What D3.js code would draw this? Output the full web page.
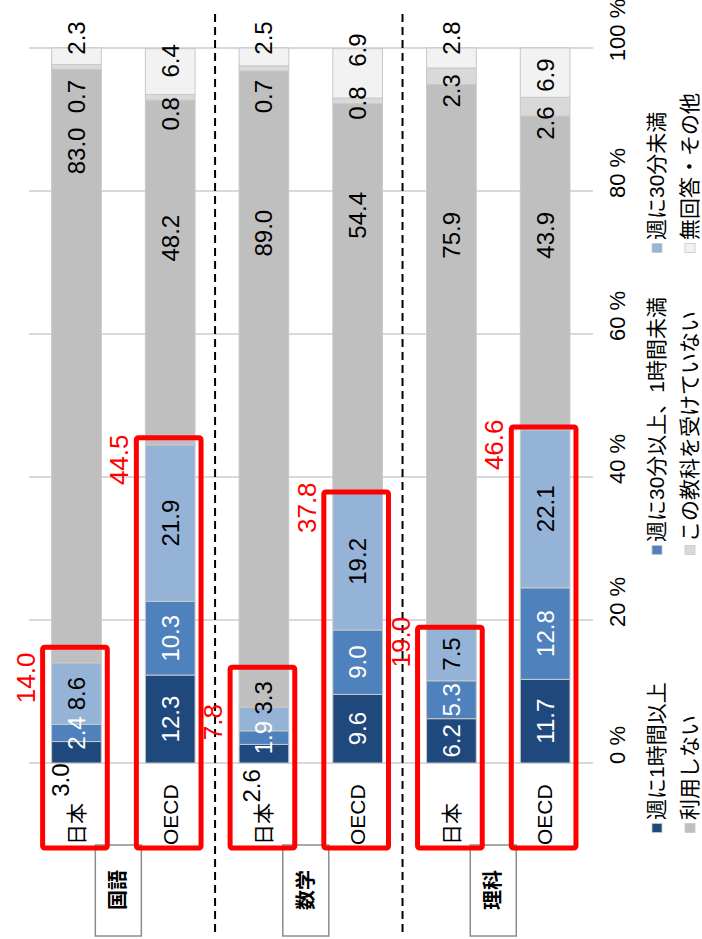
<!DOCTYPE html>
<html>
<head>
<meta charset="utf-8">
<script src="https://cdn.jsdelivr.net/npm/d3@7/dist/d3.min.js"></script>
<style>
  body { margin: 0; background: #fff; }
  svg { display: block; font-family: "Liberation Sans", Arial, "Noto Sans CJK JP", sans-serif; }
</style>
</head>
<body>
<script>
// categories
const subjects = ["国語", "数学", "理科"];
const groups = ["日本", "OECD", "日本", "OECD", "日本", "OECD"];
const seriesNames = ["週に1時間以上", "週に30分以上、1時間未満", "週に30分未満",
                     "利用しない", "この教科を受けていない", "無回答・その他"];

// series values (%), one entry per bar: 国語 日本, 国語 OECD, 数学 日本, 数学 OECD, 理科 日本, 理科 OECD
const over1h     = [3.0, 12.3, 2.6, 9.6, 6.2, 11.7];
const from30to1h = [2.4, 10.3, 1.9, 9.0, 5.3, 12.8];
const under30    = [8.6, 21.9, 3.3, 19.2, 7.5, 22.1];
const noUse      = [83.0, 48.2, 89.0, 54.4, 75.9, 43.9];
const notTaking  = [0.7, 0.8, 0.7, 0.8, 2.3, 2.6];
const noAnswer   = [2.3, 6.4, 2.5, 6.9, 2.8, 6.9];
const usersTotal = [14.0, 44.5, 7.8, 37.8, 19.0, 46.6];

// tick labels
const tickValues = [0, 20, 40, 60, 80, 100];

const series = [over1h, from30to1h, under30, noUse, notTaking, noAnswer];
const colors = ["#1f497d", "#4f81bd", "#95b3d7", "#bfbfbf", "#d9d9d9", "#f2f2f2"];

const W = 702, H = 939;
const svg = d3.select("body").append("svg").attr("width", W).attr("height", H);

const x = d3.scaleBand().domain(d3.range(groups.length))
    .range([29.6, 592]).paddingInner(0.47).paddingOuter(0.235);
const y = d3.scaleLinear().domain([0, 100]).range([763, 48]);
const bw = x.bandwidth();

// rotated text helper (reads bottom to top)
function vtext(g, px, py, str, opt) {
  opt = opt || {};
  return g.append("text")
      .attr("transform", "translate(" + px + "," + py + ") rotate(-90)")
      .attr("text-anchor", opt.anchor || "middle")
      .attr("dy", opt.dy || "0.35em")
      .style("font-size", (opt.size || 22) + "px")
      .style("font-weight", opt.weight || "normal")
      .attr("fill", opt.fill || "#000")
      .text(str);
}

// gridlines
svg.append("g").selectAll("line")
    .data(tickValues)
    .enter().append("line")
    .attr("x1", 29).attr("x2", 593)
    .attr("y1", d => y(d)).attr("y2", d => y(d))
    .attr("stroke", "#d9d9d9").attr("stroke-width", 2);

// stacked bars
const rows = d3.range(groups.length).map(i => ({ i: i, vals: series.map(s => s[i]) }));
const stacked = d3.stack().keys(d3.range(series.length)).value((d, k) => d.vals[k])(rows);

const layers = svg.append("g").selectAll("g")
    .data(stacked)
    .enter().append("g")
    .attr("fill", (d, k) => colors[k]);

layers.selectAll("rect")
    .data(d => d)
    .enter().append("rect")
    .attr("x", d => x(d.data.i))
    .attr("width", bw)
    .attr("y", d => y(d[1]))
    .attr("height", d => y(d[0]) - y(d[1]))
    .attr("stroke", "#c8c8c8")
    .attr("stroke-width", 1);

// where labels were moved off the segment centre (value-axis %), [series][bar]
const labelAt = [
  [-2.4, null, -3.2, null, null, null],
  [null, null, null, null, null, null],
  [null, null, 9.1, null, null, null],
  [85.6, 73.4, 74.1, 76.6, 73.8, 73.8],
  [93.2, 90.8, 93.2, 92.3, 94.0, 89.5],
  [101.4, 98.2, 101.4, 99.7, 101.4, 96.2]
];
const labelDx = [[-16, 0, -12, 0, 0, 0]];

const lbl = svg.append("g");
stacked.forEach((layer, k) => {
  layer.forEach(d => {
    const i = d.data.i;
    const at = labelAt[k][i] != null ? labelAt[k][i] : (d[0] + d[1]) / 2;
    const dx = (labelDx[k] && labelDx[k][i]) || 0;
    const outside = at < 0;
    const fill = (k < 2 && !outside) ? "#fff" : "#000";
    vtext(lbl, x(i) + bw / 2 + dx, y(at), d3.format(".1f")(series[k][i]), { size: 24, fill: fill });
  });
});

// group labels under bars
const cat = svg.append("g");
groups.forEach((gname, i) => {
  vtext(cat, x(i) + bw / 2, 845, gname, { anchor: "start", size: 21 });
});

// subject boxes
const boxes = svg.append("g");
subjects.forEach((s, j) => {
  const cx = (x(2 * j) + x(2 * j + 1) + bw) / 2 - 5;
  boxes.append("rect")
      .attr("x", cx - 23).attr("y", 845)
      .attr("width", 46).attr("height", 91)
      .attr("fill", "#fff").attr("stroke", "#8c8c8c").attr("stroke-width", 1.5);
  vtext(boxes, cx, 890, s, { size: 20, weight: "bold" });
});

// dashed separators
[0, 1].forEach(j => {
  const sx = (x(2 * j + 1) + bw + x(2 * j + 2)) / 2 - 2;
  svg.append("line")
      .attr("x1", sx).attr("x2", sx).attr("y1", 14).attr("y2", 933)
      .attr("stroke", "#000").attr("stroke-width", 2)
      .attr("stroke-dasharray", "8,5");
});

// red frames around the users' share
const frameTopPct = [16.2, 45.5, 13.4, 37.9, 19.0, 47.0];
const red = svg.append("g");
usersTotal.forEach((t, i) => {
  const left = x(i) - 9;
  red.append("rect")
      .attr("x", left).attr("y", y(frameTopPct[i]))
      .attr("width", bw + 15).attr("height", 848 - y(frameTopPct[i]))
      .attr("rx", 2)
      .attr("fill", "none").attr("stroke", "#ff0000").attr("stroke-width", 5);
  vtext(red, left - 8, y(t) + 15, d3.format(".1f")(t), { size: 26, fill: "#ff0000", dy: "0" });
});

// value axis labels
const ax = svg.append("g");
tickValues.forEach(t => {
  vtext(ax, 617, y(t) - 18, t + " %", { size: 22 });
});

// legend
const leg = svg.append("g");
const legX = [657, 690];
const legY = [828, 550, 248];
seriesNames.forEach((name, k) => {
  const cx = legX[Math.floor(k / 3)], cy = legY[k % 3];
  leg.append("rect")
      .attr("x", cx - 5).attr("y", cy - 4.5)
      .attr("width", 10).attr("height", 9)
      .attr("fill", colors[k]).attr("stroke", "#c8c8c8").attr("stroke-width", 0.8);
  vtext(leg, cx, cy - 8, name, { anchor: "start", size: 21 });
});
</script>
</body>
</html>
